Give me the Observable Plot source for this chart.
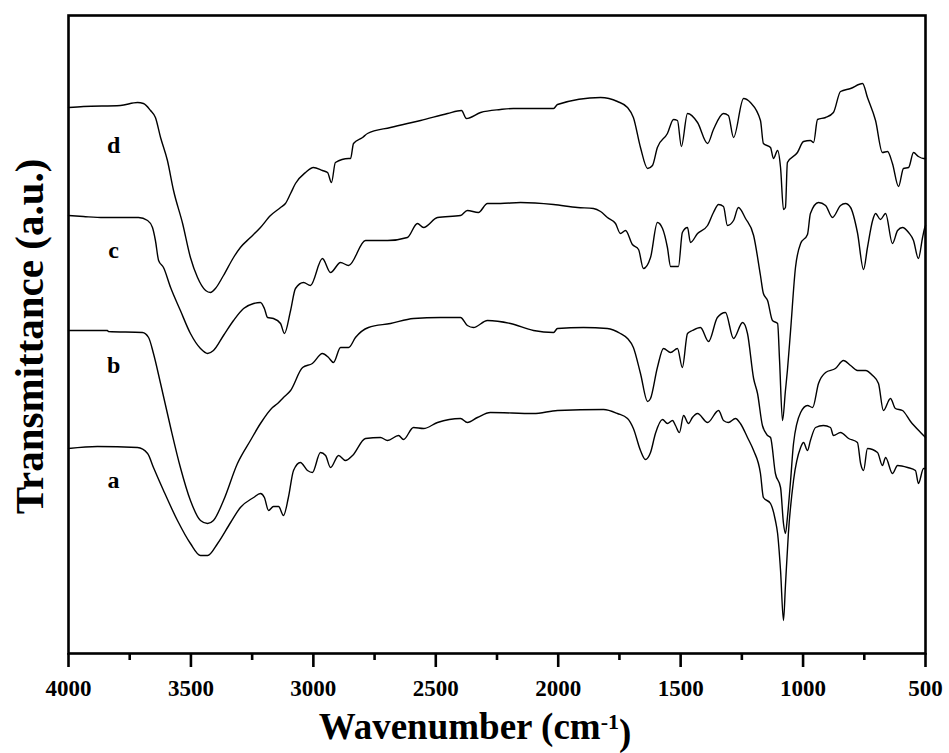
<!DOCTYPE html>
<html><head><meta charset="utf-8">
<script src="https://cdn.jsdelivr.net/npm/d3@7"></script>
<script src="https://cdn.jsdelivr.net/npm/@observablehq/plot@0.6"></script>
<style>body{margin:0;background:#fff;}</style>
</head><body><div id="chart"></div>
<script>
// FTIR spectra (transmittance, arbitrary units, curves offset vertically)
const seriesNames = ["a", "b", "c", "d"];

const specA = [[4000,205],[3882,207],[3718,206],[3677,200],[3653,186],[3612,163],[3555,133],[3502,110],[3461,98],[3432,98],[3391,110],[3338,131],[3298,146],[3244,156],[3216,160],[3200,156],[3183,143],[3163,147],[3142,147],[3122,138],[3102,156],[3081,183],[3053,191],[3024,183],[3004,181],[2971,201],[2950,198],[2930,186],[2897,198],[2869,193],[2840,198],[2787,215],[2726,216],[2697,213],[2652,218],[2632,214],[2591,226],[2550,225],[2493,231],[2399,235],[2371,231],[2330,236],[2277,241],[2101,240],[2003,243],[1815,244],[1758,240],[1717,235],[1693,225],[1664,203],[1644,194],[1623,201],[1603,220],[1574,234],[1554,230],[1533,233],[1521,228],[1505,221],[1488,238],[1468,230],[1452,236],[1431,240],[1390,231],[1345,243],[1325,233],[1305,231],[1276,235],[1256,230],[1227,216],[1202,203],[1174,180],[1162,156],[1133,150],[1113,133],[1104,120],[1092,83],[1080,33],[1072,68],[1060,120],[1039,173],[1010,206],[998,211],[982,203],[970,213],[949,226],[917,228],[888,226],[876,218],[847,221],[814,215],[778,211],[765,190],[753,183],[737,205],[696,201],[676,188],[663,196],[635,180],[614,188],[573,186],[541,183],[529,170],[508,185],[500,185]];

const specB = [[4000,323],[3841,323],[3837,322],[3698,321],[3673,316],[3653,300],[3624,270],[3583,226],[3543,186],[3502,153],[3461,133],[3432,130],[3408,133],[3367,153],[3310,190],[3257,213],[3216,230],[3167,246],[3146,250],[3122,256],[3093,263],[3044,286],[3004,290],[2963,300],[2938,296],[2918,291],[2889,306],[2856,306],[2828,316],[2775,326],[2685,330],[2591,335],[2481,336],[2399,336],[2371,328],[2346,326],[2289,333],[2195,330],[2101,323],[2019,321],[2003,325],[1897,326],[1799,325],[1746,320],[1717,315],[1693,306],[1664,280],[1635,252],[1623,255],[1595,286],[1570,305],[1541,301],[1513,305],[1493,286],[1472,320],[1452,323],[1419,326],[1386,312],[1350,336],[1317,341],[1284,315],[1247,331],[1227,320],[1202,275],[1186,260],[1166,228],[1145,218],[1133,216],[1113,180],[1092,166],[1080,130],[1072,120],[1064,136],[1051,173],[1039,210],[1010,241],[982,248],[961,246],[937,270],[908,281],[868,285],[835,293],[806,288],[778,283],[745,283],[716,278],[692,270],[672,243],[643,255],[623,245],[594,243],[561,232],[520,221],[500,216]];

const specC = [[4000,438],[3939,437],[3857,436],[3714,436],[3677,433],[3657,426],[3645,413],[3632,393],[3612,386],[3583,366],[3543,343],[3502,320],[3461,305],[3432,300],[3408,303],[3367,318],[3326,333],[3285,345],[3244,350],[3216,351],[3200,345],[3187,336],[3163,335],[3134,330],[3118,320],[3093,343],[3073,365],[3040,371],[3012,368],[2963,395],[2930,381],[2889,391],[2856,388],[2787,413],[2697,413],[2616,416],[2575,430],[2550,426],[2493,436],[2399,438],[2371,443],[2326,441],[2289,450],[2236,450],[2154,451],[2019,449],[1921,446],[1856,445],[1827,442],[1799,436],[1766,430],[1746,420],[1725,423],[1697,409],[1672,404],[1652,385],[1623,396],[1595,431],[1574,425],[1554,406],[1541,387],[1509,387],[1493,421],[1472,426],[1460,411],[1431,420],[1390,428],[1366,441],[1345,449],[1325,447],[1309,428],[1284,433],[1264,446],[1235,435],[1202,418],[1174,378],[1162,360],[1145,353],[1125,333],[1104,330],[1096,293],[1084,233],[1072,263],[1064,283],[1051,323],[1031,386],[1010,410],[982,419],[970,440],[937,451],[908,448],[880,436],[847,448],[827,450],[806,446],[778,421],[753,384],[737,406],[716,433],[704,440],[684,434],[663,440],[635,410],[614,423],[594,426],[569,421],[549,413],[529,395],[512,416],[504,425],[500,428]];

const specD = [[4000,546],[3939,547],[3788,548],[3718,551],[3694,550],[3665,543],[3645,536],[3624,516],[3596,493],[3571,463],[3534,430],[3502,396],[3473,376],[3440,363],[3420,361],[3400,365],[3367,378],[3326,396],[3298,406],[3257,416],[3216,426],[3175,438],[3134,446],[3114,450],[3093,460],[3073,470],[3032,481],[3000,486],[2963,483],[2942,481],[2926,471],[2910,491],[2856,495],[2848,495],[2836,510],[2799,516],[2779,520],[2685,526],[2616,530],[2562,533],[2452,540],[2395,543],[2375,535],[2317,541],[2236,544],[2183,545],[2019,545],[2003,549],[1827,556],[1758,552],[1717,546],[1693,536],[1664,506],[1635,485],[1615,488],[1595,506],[1554,520],[1529,534],[1513,533],[1497,507],[1472,540],[1431,531],[1390,510],[1366,524],[1325,540],[1305,538],[1284,516],[1243,555],[1215,551],[1174,533],[1162,510],[1133,506],[1121,495],[1104,503],[1092,486],[1080,444],[1072,446],[1064,491],[1023,501],[998,512],[970,513],[957,511],[941,534],[908,536],[876,541],[847,562],[806,565],[757,570],[737,556],[704,533],[676,501],[655,502],[635,490],[610,467],[590,485],[569,486],[549,501],[529,497],[508,495],[500,495]];

// curve labels: name, wavenumber, level
const labelNames = ["d", "c", "b", "a"];
const labelWn = [3816, 3816, 3816, 3816];
const labelT = [508, 403, 288, 173];

const majorTicks = [4000, 3500, 3000, 2500, 2000, 1500, 1000, 500];
const minorTicks = [3750, 3250, 2750, 2250, 1750, 1250, 750];

const xTitle = "Wavenumber (cm-1)";
const yTitle = "Transmittance (a.u.)";

const specs = {a: specA, b: specB, c: specC, d: specD};
const rows = seriesNames.flatMap(s => specs[s].map(([wn, t]) => ({series: s, wn, t})));
const labels = labelNames.map((name, i) => ({name, wn: labelWn[i], t: labelT[i]}));

const font = '"Liberation Serif","Times New Roman",Times,serif';

const chart = Plot.plot({
  width: 949, height: 753,
  marginLeft: 68, marginRight: 24, marginTop: 15, marginBottom: 100,
  style: {fontFamily: font, fontWeight: "bold", fontSize: "23px", color: "black", background: "white", overflow: "visible"},
  x: {domain: [4000, 500]},
  y: {domain: [0, 638], axis: null},
  marks: [
    Plot.line(rows, {x: "wn", y: "t", z: "series", stroke: "black", strokeWidth: 1.4, strokeLinejoin: "round", curve: "monotone-x"}),
    Plot.frame({stroke: "black", strokeWidth: 2.6}),
    Plot.axisX({ticks: majorTicks, tickSize: 14, tickPadding: 12, strokeWidth: 2.6, label: null, tickFormat: d => String(d), fontSize: 23, fontWeight: "bold"}),
    Plot.axisX({ticks: minorTicks, tickSize: 7, strokeWidth: 2.6, label: null, tickFormat: () => ""}),
    Plot.text(labels, {x: "wn", y: "t", text: "name", fontSize: 24, fontWeight: "bold"}),
    Plot.text([yTitle], {text: d => d, frameAnchor: "left", textAnchor: "middle", rotate: -90, dx: -39, dy: 2, fontSize: 41, fontWeight: "bold"}),
    Plot.text([xTitle], {text: d => d, frameAnchor: "bottom", textAnchor: "middle", dx: -22, dy: 85, fontSize: 37, fontWeight: "bold"})
  ]
});

// superscript for the unit exponent
d3.select(chart).selectAll("text").each(function() {
  if (this.textContent === xTitle) {
    const t = d3.select(this);
    t.text(null);
    t.append("tspan").text("Wavenumber (cm");
    t.append("tspan").attr("dy", "-0.45em").attr("font-size", "22px").text("-1");
    t.append("tspan").attr("dy", "0.45em").text(")");
  }
});

document.getElementById("chart").appendChild(chart);
</script>
</body></html>
